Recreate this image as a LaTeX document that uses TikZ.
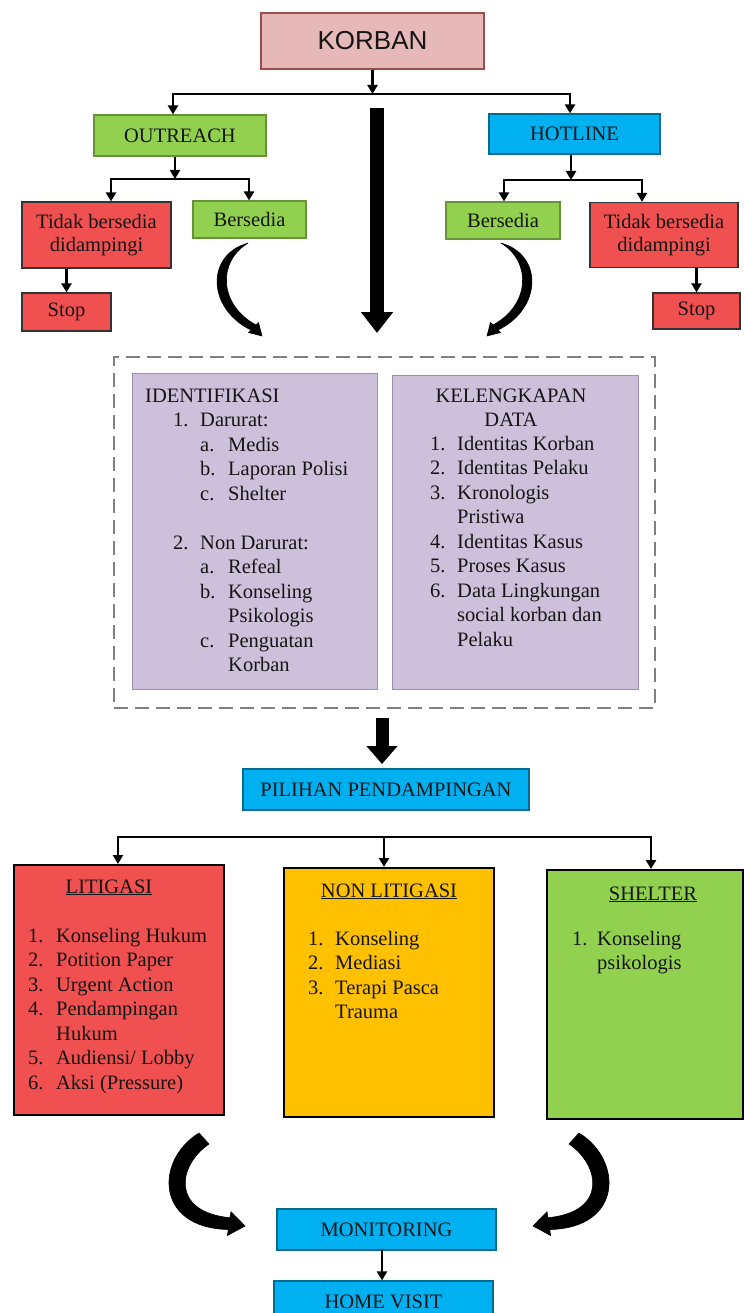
\documentclass[tikz,border=0pt]{standalone}
\usepackage{fontspec}
\setmainfont{Liberation Serif}
\newfontfamily\arialf{Liberation Sans}
\usetikzlibrary{arrows.meta}
\definecolor{pinkk}{HTML}{E6B9B8}
\definecolor{grn}{HTML}{92D050}
\definecolor{blu}{HTML}{00B0F0}
\definecolor{redd}{HTML}{F05050}
\definecolor{orng}{HTML}{FFC000}
\definecolor{purp}{HTML}{CCC0DA}
\definecolor{purpline}{HTML}{9C8CB0}
\definecolor{txt}{HTML}{151515}
\newcommand\lab[3]{\hspace*{#1pt}\makebox[#2pt][l]{#3}}
\newcommand\ul[1]{\underline{#1}}
\tikzset{
  box/.style={draw, line width=1.2pt, inner sep=0pt, align=center, text=txt,
    font=\fontsize{20.5}{23}\selectfont},
  listtxt/.style={inner sep=0pt, text=txt, font=\fontsize{20.5}{24.5}\selectfont},
  conn/.style={line width=2.5pt, -{Triangle[width=10pt,length=9pt]}},
  branch/.style={conn, line cap=rect},
  bigarrow/.style={line width=14pt, -{Triangle[width=31pt,length=21pt]}},
  curvefill/.style={fill=black, draw=black, line width=0.6pt, line join=round},
}
\begin{document}
\begin{tikzpicture}[x=1pt,y=-1pt]
\useasboundingbox (0,0) rectangle (744,1313);
\clip (0,0) rectangle (744,1313);
\fill[white] (0,0) rectangle (744,1313);

% top level
\node[box, fill=pinkk, draw=red!45!black!70, minimum width=223pt, minimum height=56pt,
  font=\arialf\fontsize{26}{30}\selectfont] (korban) at (372.5,41) {KORBAN};
\node[box, fill=grn, draw=grn!70!black, minimum width=172pt, minimum height=41pt] (outreach) at (180,135.5) {OUTREACH};
\node[box, fill=blu, draw=blu!60!black, minimum width=171pt, minimum height=40pt] (hotline) at (574.5,134) {HOTLINE};

\node[box, fill=redd, draw=black!80, minimum width=149pt, minimum height=66pt] (tidakL) at (96.5,235) {Tidak bersedia\\didampingi};
\node[box, fill=grn, draw=grn!70!black, minimum width=113pt, minimum height=37pt] (bersediaL) at (249.5,219.5) {Bersedia};
\node[box, fill=redd, draw=black!80, minimum width=89pt, minimum height=38pt] (stopL) at (66.5,312) {Stop};

\node[box, fill=grn, draw=grn!70!black, minimum width=114pt, minimum height=37pt] (bersediaR) at (503,220.5) {Bersedia};
\node[box, fill=redd, draw=black!80, minimum width=148pt, minimum height=65pt] (tidakR) at (664,235) {Tidak bersedia\\didampingi};
\node[box, fill=redd, draw=black!80, minimum width=87pt, minimum height=36pt] (stopR) at (696.5,311) {Stop};

% connectors top
\coordinate (kbar) at (372.5,94);
\coordinate (kbL) at (173,94);
\coordinate (kbR) at (570,94);
\draw[conn] (korban) -- (kbar);
\draw[conn] (kbR) -- (kbL) -- (kbL |- outreach.north);
\draw[branch] (kbR) -- (kbR |- hotline.north);

\coordinate (obar) at (175,179);
\coordinate (obL) at (111,179);
\coordinate (obR) at (249,179);
\draw[conn] (outreach.south -| obar) -- (obar);
\draw[conn] (obR) -- (obL) -- (obL |- tidakL.north);
\draw[branch] (obR) -- (obR |- bersediaL.north);

\coordinate (hbar) at (571,180);
\coordinate (hbL) at (504,180);
\coordinate (hbR) at (642,180);
\draw[conn] (hotline.south -| hbar) -- (hbar);
\draw[conn] (hbR) -- (hbL) -- (hbL |- bersediaR.north);
\draw[branch] (hbR) -- (hbR |- tidakR.north);

\draw[conn] (tidakL.south -| stopL) -- (stopL.north);
\draw[conn] (tidakR.south -| stopR) -- (stopR.north);

% big centre arrow
\coordinate (bigA) at (377,108);
\coordinate (bigB) at (377,333);
\draw[bigarrow] (bigA) -- (bigB);

% curved tapered arrows (top)
\fill[curvefill] (248,243) .. controls (217,262) and (219,305) .. (256,325)
  -- (258.5,322.5) -- (262,336) -- (248.5,332.5) -- (251,330)
  .. controls (210,310) and (206,262) .. (240,246) -- cycle;
\begin{scope}[xshift=749pt, xscale=-1]
\fill[curvefill] (248,243) .. controls (217,262) and (219,305) .. (256,325)
  -- (258.5,322.5) -- (262,336) -- (248.5,332.5) -- (251,330)
  .. controls (210,310) and (206,262) .. (240,246) -- cycle;
\end{scope}

% dashed frame and purple boxes
\node[draw=black!50, line width=2pt, dash pattern=on 14pt off 7pt, minimum width=541pt, minimum height=351pt, inner sep=0pt] (dbox) at (384.5,532.5) {};
\node[draw=purpline, fill=purp, line width=1pt, minimum width=245pt, minimum height=316pt, inner sep=0pt] (identbox) at (254.5,531) {};
\node[draw=purpline, fill=purp, line width=1pt, minimum width=246pt, minimum height=314pt, inner sep=0pt] (databox) at (515,532) {};

\node[listtxt, anchor=base west] (identtxt) at (145,402) {\begin{tabular}[t]{@{}l@{}}
IDENTIFIKASI\\
\lab{28}{27}{1.}Darurat:\\
\lab{55}{28}{a.}Medis\\
\lab{55}{28}{b.}Laporan Polisi\\
\lab{55}{28}{c.}Shelter\\
\\
\lab{28}{27}{2.}Non Darurat:\\
\lab{55}{28}{a.}Refeal\\
\lab{55}{28}{b.}Konseling\\
\hspace*{83pt}Psikologis\\
\lab{55}{28}{c.}Penguatan\\
\hspace*{83pt}Korban
\end{tabular}};

\node[listtxt, anchor=base] (datatitle) at (511,402) {\begin{tabular}[t]{@{}c@{}}
KELENGKAPAN\\ DATA\end{tabular}};
\node[listtxt, anchor=base west] (datatxt) at (430,450) {\begin{tabular}[t]{@{}l@{}}
\lab{0}{27}{1.}Identitas Korban\\
\lab{0}{27}{2.}Identitas Pelaku\\
\lab{0}{27}{3.}Kronologis\\
\hspace*{27pt}Pristiwa\\
\lab{0}{27}{4.}Identitas Kasus\\
\lab{0}{27}{5.}Proses Kasus\\
\lab{0}{27}{6.}Data Lingkungan\\
\hspace*{27pt}social korban dan\\
\hspace*{27pt}Pelaku
\end{tabular}};

% pilihan
\node[box, fill=blu, draw=blu!60!black, minimum width=286pt, minimum height=41pt] (pilihan) at (386,789.5) {PILIHAN PENDAMPINGAN};
\coordinate (pA) at (382,718);
\coordinate (pB) at (382,764);
\draw[line width=13pt, -{Triangle[width=30pt,length=18pt]}] (pA) -- (pB);

\node[box, fill=redd, draw=black, line width=2pt, minimum width=210pt, minimum height=250pt] (litigasi) at (119,990) {};
\node[box, fill=orng, draw=black, line width=2pt, minimum width=210pt, minimum height=249pt] (nonlit) at (389,992.5) {};
\node[box, fill=grn, draw=black, line width=2pt, minimum width=196pt, minimum height=249pt] (shelter) at (645,994.5) {};

\coordinate (qbar) at (384,837);
\coordinate (qbL) at (118,837);
\coordinate (qbR) at (651,837);
\draw[conn] (qbR) -- (qbL) -- (qbL |- litigasi.north);
\draw[branch] (qbR) -- (qbR |- shelter.north);
\draw[conn] (qbar) -- (qbar |- nonlit.north);

\node[listtxt, anchor=base] (littitle) at (109,893) {\ul{LITIGASI}};
\node[listtxt, anchor=base west] (littxt) at (28,942) {\begin{tabular}[t]{@{}l@{}}
\lab{0}{28}{1.}Konseling Hukum\\
\lab{0}{28}{2.}Potition Paper\\
\lab{0}{28}{3.}Urgent Action\\
\lab{0}{28}{4.}Pendampingan\\
\hspace*{28pt}Hukum\\
\lab{0}{28}{5.}Audiensi/ Lobby\\
\lab{0}{28}{6.}Aksi (Pressure)
\end{tabular}};

\node[listtxt, anchor=base] (nltitle) at (389,897) {\ul{NON LITIGASI}};
\node[listtxt, anchor=base west] (nltxt) at (308,945) {\begin{tabular}[t]{@{}l@{}}
\lab{0}{27}{1.}Konseling\\
\lab{0}{27}{2.}Mediasi\\
\lab{0}{27}{3.}Terapi Pasca\\
\hspace*{27pt}Trauma
\end{tabular}};

\node[listtxt, anchor=base] (shtitle) at (653,900) {\ul{SHELTER}};
\node[listtxt, anchor=base west] (shtxt) at (572,945) {\begin{tabular}[t]{@{}l@{}}
\lab{0}{25}{1.}Konseling\\
\hspace*{25pt}psikologis
\end{tabular}};

% monitoring
\node[box, fill=blu, draw=blu!60!black, minimum width=219pt, minimum height=41pt] (monitoring) at (386.5,1229.5) {MONITORING};
\node[box, fill=blu, draw=blu!60!black, minimum width=219pt, minimum height=41pt] (homevisit) at (383.5,1301.5) {HOME VISIT};
\coordinate (mhA) at (382,1250);
\draw[conn] (mhA) -- (mhA |- homevisit.north);

% curved tapered arrows (bottom)
\fill[curvefill] (209,1144) .. controls (178,1165) and (170,1212) .. (230,1217.7)
  -- (231,1211.7) -- (245,1226) -- (227.4,1235.5) -- (228.3,1229.5)
  .. controls (155,1228) and (155,1160) .. (199,1133) -- cycle;
\begin{scope}[xshift=778pt, xscale=-1]
\fill[curvefill] (209,1144) .. controls (178,1165) and (170,1212) .. (230,1217.7)
  -- (231,1211.7) -- (245,1226) -- (227.4,1235.5) -- (228.3,1229.5)
  .. controls (155,1228) and (155,1160) .. (199,1133) -- cycle;
\end{scope}
\end{tikzpicture}
\end{document}
